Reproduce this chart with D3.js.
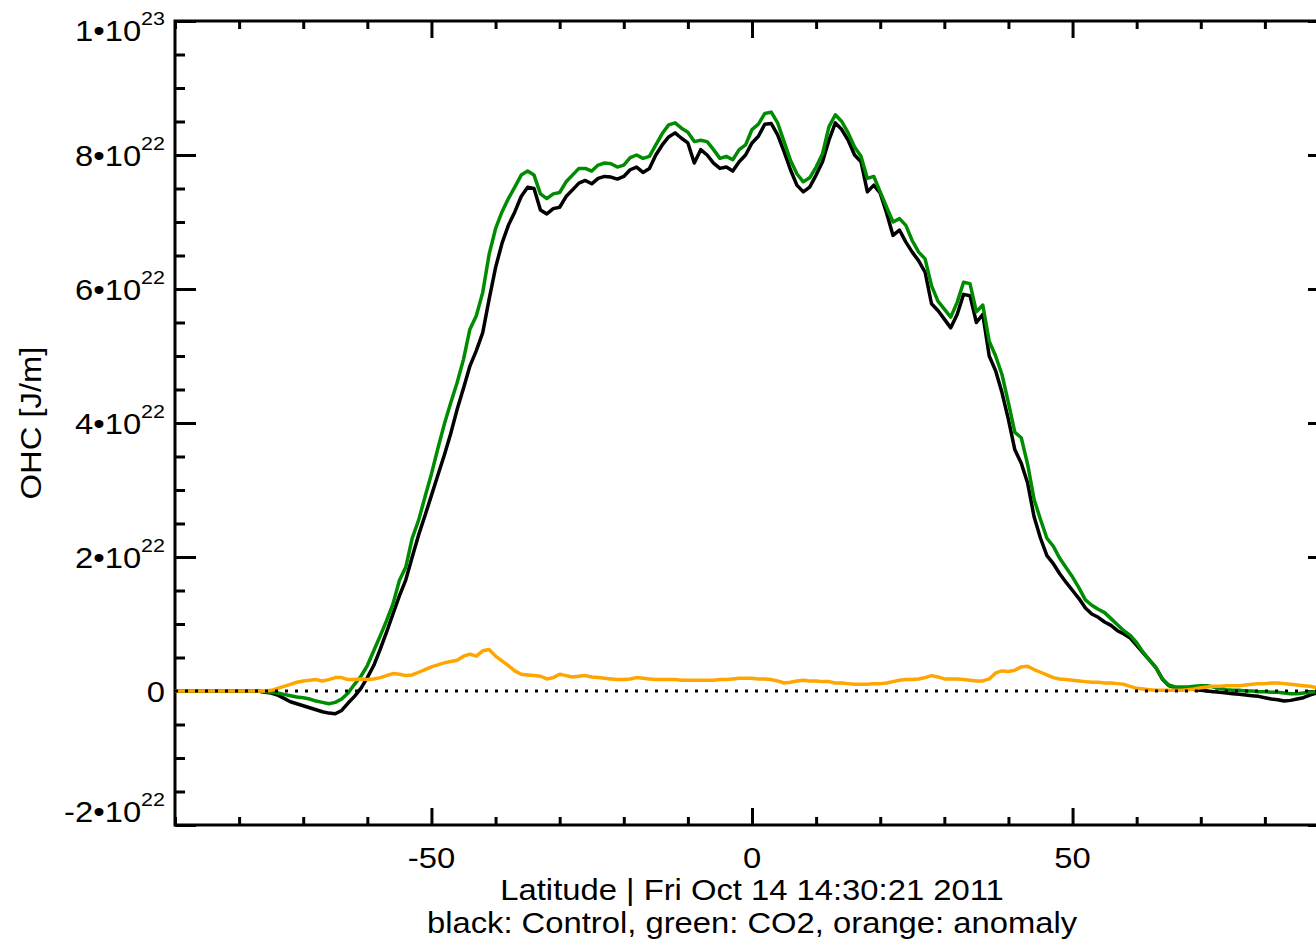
<!DOCTYPE html>
<html>
<head>
<meta charset="utf-8">
<script src="https://cdn.jsdelivr.net/npm/d3@7"></script>
<style>
  body { margin: 0; background: #fff; overflow: hidden; }
  text { font-family: "Liberation Sans", Arial, Helvetica, sans-serif; fill: #000; }
</style>
</head>
<body>
<div id="chart"></div>
<script>
// latitude grid, 1 degree steps from -90 to 90
const latitudes = d3.range(-90, 91, 1);

// OHC in units of 1e22 J/m
const control = [
  0, 0, 0, 0, 0, 0, 0, 0, 0, 0, 0, 0, 0, 0,
  -0.02, -0.03, -0.06, -0.11, -0.16, -0.19, -0.22, -0.25, -0.28, -0.31, -0.33, -0.34, -0.29, -0.18, -0.08, 0.04, 0.2,
  0.38, 0.62, 0.88, 1.15, 1.42, 1.66, 2.0, 2.33, 2.62, 2.92,
  3.22, 3.52, 3.84, 4.2, 4.52, 4.85, 5.08, 5.35, 5.85, 6.32,
  6.68, 6.95, 7.15, 7.38, 7.52, 7.5, 7.18, 7.12, 7.2, 7.22,
  7.38, 7.48, 7.58, 7.62, 7.57, 7.65, 7.68, 7.67, 7.64, 7.68,
  7.78, 7.82, 7.74, 7.8, 8.0, 8.15, 8.27, 8.33, 8.25, 8.18,
  7.88, 8.08, 8.0, 7.88, 7.8, 7.82, 7.76, 7.9, 8.0, 8.18,
  8.28, 8.46, 8.47, 8.3, 8.05, 7.78, 7.55, 7.45, 7.52, 7.7,
  7.9, 8.22, 8.48, 8.38, 8.22, 8.0, 7.9, 7.45, 7.55, 7.43,
  7.13, 6.8, 6.88, 6.7, 6.55, 6.42, 6.25, 5.78, 5.68, 5.55,
  5.42, 5.62, 5.92, 5.9, 5.5, 5.62, 5.0, 4.78, 4.45, 4.05,
  3.6, 3.4, 3.1, 2.6, 2.28, 2.02, 1.9, 1.75, 1.62, 1.5,
  1.38, 1.24, 1.15, 1.1, 1.03, 0.98, 0.9, 0.85, 0.79, 0.68,
  0.57, 0.46, 0.35, 0.18, 0.08, 0.05, 0.04, 0.04, 0.02, 0.01,
  0, -0.01, -0.02, -0.03, -0.04, -0.05, -0.06, -0.07, -0.08, -0.1,
  -0.12, -0.13, -0.15, -0.14, -0.12, -0.1, -0.06, -0.03, 0, 0
];

const co2 = [
  0, 0, 0, 0, 0, 0, 0, 0, 0, 0, 0, 0, 0, 0,
  -0.01, -0.02, -0.03, -0.05, -0.07, -0.09, -0.1, -0.12, -0.15, -0.17, -0.19, -0.17, -0.12, -0.03, 0.1, 0.22, 0.38,
  0.6, 0.82, 1.05, 1.3, 1.65, 1.85, 2.28, 2.55, 2.9, 3.24,
  3.62, 3.98, 4.3, 4.6, 4.95, 5.4, 5.6, 5.95, 6.52, 6.9,
  7.15, 7.35, 7.52, 7.7, 7.76, 7.7, 7.42, 7.35, 7.42, 7.44,
  7.6, 7.7, 7.8, 7.8, 7.76, 7.85, 7.88, 7.87, 7.82, 7.85,
  7.96, 8.0, 7.95, 7.98, 8.15, 8.32, 8.45, 8.48, 8.4, 8.34,
  8.2, 8.22, 8.2, 8.08, 7.95, 7.98, 7.93, 8.08, 8.15, 8.38,
  8.46, 8.62, 8.64, 8.48, 8.2, 7.92, 7.72, 7.6, 7.66, 7.82,
  8.02, 8.42, 8.6, 8.5, 8.33, 8.12, 7.98, 7.65, 7.68, 7.45,
  7.22, 7.0, 7.05, 6.95, 6.72, 6.55, 6.45, 6.05, 5.82, 5.7,
  5.58, 5.8, 6.1, 6.08, 5.66, 5.76, 5.22, 5.0, 4.72, 4.3,
  3.86, 3.78, 3.38, 2.86, 2.56, 2.28, 2.16, 1.98, 1.84, 1.7,
  1.54, 1.36, 1.28, 1.22, 1.17, 1.08, 0.99, 0.9, 0.83, 0.72,
  0.58, 0.46, 0.35, 0.18, 0.09, 0.06, 0.06, 0.06, 0.07, 0.08,
  0.08, 0.06, 0.04, 0.02, 0.01, 0.01, 0, 0, -0.01, -0.01,
  -0.02, -0.02, -0.03, -0.04, -0.04, -0.03, -0.02, -0.01, 0, 0
];

const anomaly = [
  0, 0, 0, 0, 0, 0, 0, 0, 0, 0, 0, 0, 0, 0, 0,
  0.01, 0.04, 0.07, 0.1, 0.13, 0.15, 0.16, 0.17, 0.15, 0.17, 0.2, 0.2, 0.17, 0.17, 0.18, 0.17,
  0.18, 0.2, 0.23, 0.26, 0.25, 0.23, 0.24, 0.28, 0.32, 0.36,
  0.39, 0.42, 0.44, 0.46, 0.52, 0.55, 0.52, 0.6, 0.62, 0.52,
  0.45, 0.38, 0.3, 0.25, 0.24, 0.23, 0.22, 0.18, 0.2, 0.25,
  0.23, 0.21, 0.22, 0.23, 0.21, 0.2, 0.19, 0.18, 0.17, 0.17,
  0.18, 0.2, 0.19, 0.18, 0.17, 0.17, 0.17, 0.17, 0.16, 0.16,
  0.16, 0.16, 0.16, 0.16, 0.17, 0.17, 0.18, 0.19, 0.19, 0.19,
  0.18, 0.18, 0.17, 0.15, 0.12, 0.13, 0.15, 0.16, 0.15, 0.15,
  0.14, 0.14, 0.12, 0.12, 0.11, 0.1, 0.1, 0.1, 0.11, 0.11,
  0.12, 0.14, 0.16, 0.17, 0.17, 0.18, 0.2, 0.23, 0.21, 0.18,
  0.18, 0.18, 0.17, 0.16, 0.15, 0.15, 0.18, 0.27, 0.3, 0.29,
  0.31, 0.36, 0.37, 0.32, 0.28, 0.24, 0.2, 0.18, 0.17, 0.16,
  0.15, 0.14, 0.13, 0.13, 0.12, 0.12, 0.11, 0.1, 0.07, 0.04,
  0.03, 0.02, 0.01, 0.01, 0.01, 0.01, 0.01, 0.02, 0.03, 0.05,
  0.06, 0.07, 0.07, 0.08, 0.08, 0.08, 0.09, 0.1, 0.11, 0.11,
  0.12, 0.12, 0.11, 0.1, 0.09, 0.08, 0.07, 0.05, 0.03, 0
];

// tick labels
const xTickValues = [-50, 0, 50];
const xTickLabels = ["-50", "0", "50"];
const yTickValues = [-2, 0, 2, 4, 6, 8, 10];
const yTickBases = ["-2\u202210", "0", "2\u202210", "4\u202210", "6\u202210", "8\u202210", "1\u202210"];
const yTickExps = ["22", "", "22", "22", "22", "22", "23"];

const xTitle = "Latitude | Fri Oct 14 14:30:21 2011";
const xSubtitle = "black: Control, green: CO2, orange: anomaly";
const yTitle = "OHC [J/m]";

// dimensions
const width = 1316, height = 942;
const plot = { left: 175, right: 1329, top: 21, bottom: 825 };
const fontSize = 29;
const stretch = 1.13;   // IDL's font is a bit wider than Liberation Sans

const svg = d3.select("#chart")
  .append("svg")
  .attr("width", width)
  .attr("height", height);

svg.append("rect").attr("width", width).attr("height", height).attr("fill", "#fff");

const x = d3.scaleLinear().domain([-90, 90]).range([plot.left, plot.right]);
const y = d3.scaleLinear().domain([-2, 10]).range([plot.bottom, plot.top]);

const xMinor = d3.range(-90, 91, 10).filter(d => !xTickValues.includes(d));
const yMinor = d3.range(-2, 10.01, 0.5).filter(d => !yTickValues.includes(d));

// axes: IDL style, ticks pointing inward on all four sides
function ticks(axis, tx, ty) {
  const g = svg.append("g")
    .attr("transform", `translate(${tx},${ty})`)
    .call(axis.tickFormat("").tickSizeOuter(0));
  g.select(".domain").remove();
  g.selectAll("text").remove();
  g.selectAll("line").attr("stroke", "#000").attr("stroke-width", 3);
}

ticks(d3.axisBottom(x).tickValues(xTickValues).tickSize(-17), 0, plot.bottom);
ticks(d3.axisBottom(x).tickValues(xMinor).tickSize(-8), 0, plot.bottom);
ticks(d3.axisTop(x).tickValues(xTickValues).tickSize(-17), 0, plot.top);
ticks(d3.axisTop(x).tickValues(xMinor).tickSize(-8), 0, plot.top);
ticks(d3.axisLeft(y).tickValues(yTickValues).tickSize(-21), plot.left, 0);
ticks(d3.axisLeft(y).tickValues(yMinor).tickSize(-10), plot.left, 0);
ticks(d3.axisRight(y).tickValues(yTickValues).tickSize(-21), plot.right, 0);
ticks(d3.axisRight(y).tickValues(yMinor).tickSize(-10), plot.right, 0);

// frame
svg.append("rect")
  .attr("x", plot.left).attr("y", plot.top)
  .attr("width", plot.right - plot.left)
  .attr("height", plot.bottom - plot.top)
  .attr("fill", "none")
  .attr("stroke", "#000")
  .attr("stroke-width", 3);

// lines
const line = d3.line()
  .x((d, i) => x(latitudes[i]))
  .y(d => y(d));

const series = [
  { values: control, color: "#000000" },
  { values: co2, color: "#008c00" },
  { values: anomaly, color: "#ffa500" }
];

series.forEach(s => {
  svg.append("path")
    .datum(s.values)
    .attr("d", line)
    .attr("fill", "none")
    .attr("stroke", s.color)
    .attr("stroke-width", 3.5)
    .attr("stroke-linejoin", "round");
});

// dotted zero line on top
svg.append("line")
  .attr("x1", plot.left).attr("x2", plot.right)
  .attr("y1", y(0)).attr("y2", y(0))
  .attr("stroke", "#000")
  .attr("stroke-width", 3)
  .attr("stroke-dasharray", "3,7");

// text helper: stretched horizontally along the reading direction
function label(tx, ty, anchor, rotate) {
  return svg.append("text")
    .attr("transform", `translate(${tx},${ty})${rotate ? " rotate(" + rotate + ")" : ""} scale(${stretch},1)`)
    .attr("text-anchor", anchor)
    .attr("font-size", fontSize);
}

// y tick labels (kept inside the window at the ends, like IDL)
yTickValues.forEach((v, i) => {
  const ty = Math.min(Math.max(y(v) + 11, 41), 822);
  const t = label(165, ty, "end");
  t.append("tspan").text(yTickBases[i]);
  if (yTickExps[i]) {
    t.append("tspan").attr("dy", -16).attr("font-size", 19).text(yTickExps[i]);
  }
});

// x tick labels
xTickValues.forEach((v, i) => {
  label(x(v), 868, "middle").text(xTickLabels[i]);
});

// titles
label(x(0), 900, "middle").text(xTitle);
label(x(0), 933, "middle").text(xSubtitle);
label(41, (plot.top + plot.bottom) / 2, "middle", -90).text(yTitle);
</script>
</body>
</html>
